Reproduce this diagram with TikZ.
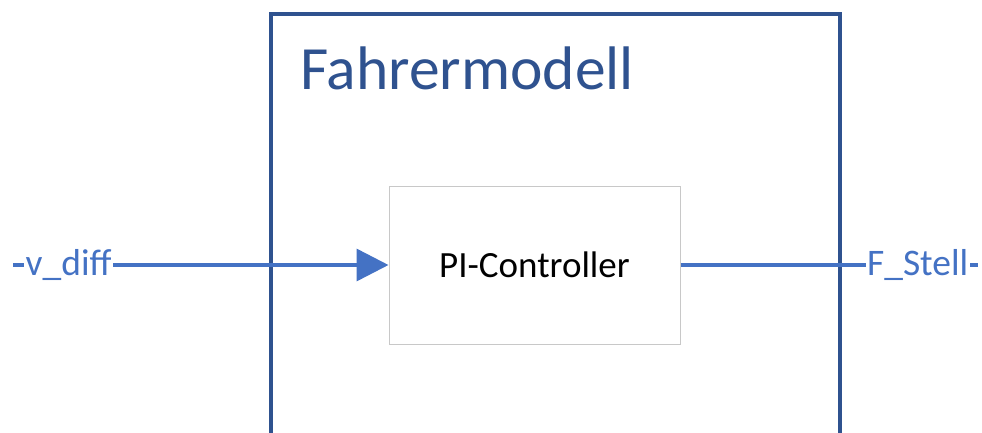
\documentclass[tikz,border=0pt]{standalone}
\usepackage{fontspec}
\setmainfont{Carlito}
\usetikzlibrary{arrows.meta}
\definecolor{frame}{HTML}{2F528F}
\definecolor{signal}{HTML}{4472C4}
\definecolor{blockline}{HTML}{C8C8C8}
\tikzset{
  frameline/.style={draw=frame, line width=3.5pt},
  signalline/.style={draw=signal, line width=3.5pt},
  signallabel/.style={text=signal, fill=white, inner sep=1.5pt,
    font=\fontsize{37.5}{37.5}\selectfont},
  block/.style={draw=blockline, line width=1pt, fill=white,
    minimum width=291pt, minimum height=158pt, inner sep=0pt,
    font=\fontsize{37}{37}\selectfont},
  titletext/.style={text=frame, inner sep=0pt,
    font=\fontsize{61.5}{61.5}\selectfont}
}
\begin{document}
\begin{tikzpicture}[x=1pt, y=-1pt]
  \useasboundingbox (0,0) rectangle (982,433);
  % outer subsystem frame (open towards the bottom)
  \begin{scope}
    \clip (0,0) rectangle (982,433);
    \draw[frameline] (271,460) -- (271,14) -- (840,14) -- (840,460);
  \end{scope}
  \node[titletext, anchor=base west] (title) at (300,90) {Fahrermodell};
  % controller block
  \node[block] (pi) at (534.5,265) {PI-Controller};
  % input and output signal lines
  \coordinate (inL) at (13,265);
  \coordinate (outR) at (978,265);
  \draw[signalline, -{Triangle[length=32pt, width=32pt]}] (inL) -- (pi.west);
  \draw[signalline] (pi.east) -- (outR);
  \node[signallabel, anchor=base west] (vdiff) at (24,275) {v\_diff};
  \node[signallabel, anchor=base east] (fstell) at (970,275) {F\_Stell};
\end{tikzpicture}
\end{document}
